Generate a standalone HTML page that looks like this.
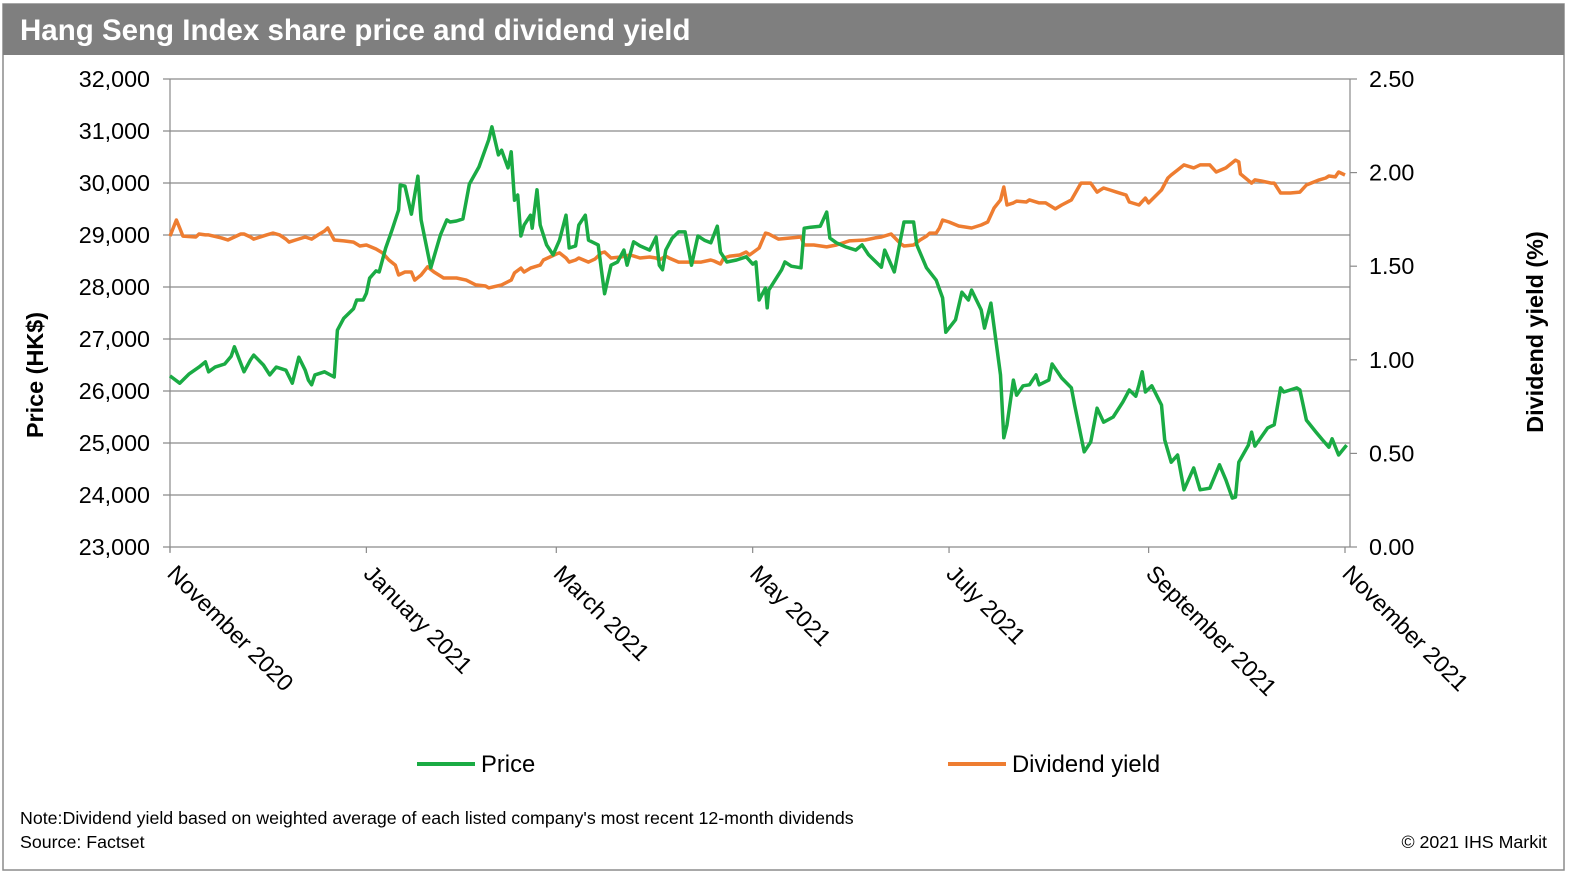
<!DOCTYPE html>
<html><head><meta charset="utf-8"><style>
body{margin:0;background:#fff;}
#wrap{position:relative;width:1586px;height:883px;overflow:hidden;font-family:"Liberation Sans",Arial,sans-serif;}
</style></head><body>
<div id="wrap">
<svg id="svg" width="1586" height="883" xmlns="http://www.w3.org/2000/svg" style="position:absolute;left:0;top:0">
<rect x="3" y="4" width="1561" height="866" fill="#fff" stroke="#8c8c8c" stroke-width="1.5"/>
<rect x="3" y="4" width="1561" height="51" fill="#7f7f7f"/>
<text x="20" y="40" font-size="29.5" font-weight="bold" fill="#fff">Hang Seng Index share price and dividend yield</text>
<g id="grid"></g><g id="axes"></g><g id="series"></g>
<text transform="translate(43,375) rotate(-90)" text-anchor="middle" font-size="23.4" font-weight="bold">Price (HK$)</text>
<text transform="translate(1543,332) rotate(-90)" text-anchor="middle" font-size="23.4" font-weight="bold">Dividend yield (%)</text>
<line x1="417" y1="764" x2="475" y2="764" stroke="#1aab44" stroke-width="4"/>
<text x="481" y="772" font-size="23.8">Price</text>
<line x1="948" y1="764" x2="1006" y2="764" stroke="#ee7d31" stroke-width="4"/>
<text x="1012" y="772" font-size="23.8">Dividend yield</text>
<text x="20" y="824" font-size="17.8">Note:Dividend yield based on weighted average of each listed company's most recent 12-month dividends</text>
<text x="20" y="848" font-size="17.8">Source: Factset</text>
<text x="1547" y="848" font-size="17.8" text-anchor="end">© 2021 IHS Markit</text>
</svg>
</div>
<script>
const priceTicks=[23000,24000,25000,26000,27000,28000,29000,30000,31000,32000];
const yieldTicks=[0,0.5,1.0,1.5,2.0,2.5];
const monthLabels=["November 2020","January 2021","March 2021","May 2021","July 2021","September 2021","November 2021"];
const monthDays=[0,61,120,181,242,304,365];
const priceDays=[0,3,6,9,11,12,14,17,19,20,23,25,26,29,31,33,36,38,40,42,43,44,45,48,51,52,54,57,58,60,61,62,64,65,67,69,71,71.5,73,75,77,78,81,84,86,87,89,91,93,96,99,100,102,103,105,106,107,108,109,110,112,112.5,114,115,117,119,121,123,124,126,127,129,130,133,134,135,137,139,141,142,144,146,149,151,152,153,154,156,157,158,160,162,164,166,168,170,171,173,176,179,181,182,183,185,185.5,186,190,191,193,196,197,199,202,204,205,207,210,213,215,217,221,222,225,227,228,231,232,235,238,240,241,244,246,248,249,252,253,255,258,259,260,262,263,265,267,269,270,273,274,277,280,281,284,286,288,290,293,296,298,300,301,302,303,305,308,309,311,313,315,317,318,320,323,326,328,330,331,332,335,336,337,341,343,345,346,350,351,353,356,358,360,361,363,365.5];
const priceValues=[26290,26150,26330,26460,26560,26370,26460,26520,26670,26850,26370,26600,26690,26500,26310,26460,26400,26150,26650,26400,26210,26120,26310,26370,26270,27170,27400,27580,27750,27750,27880,28170,28310,28290,28750,29100,29480,29960,29940,29400,30130,29290,28370,29000,29290,29250,29270,29310,29980,30310,30830,31080,30540,30630,30290,30600,29670,29770,28980,29190,29380,29130,29870,29190,28810,28620,28900,29380,28750,28790,29190,29380,28900,28810,28330,27870,28420,28480,28710,28420,28870,28790,28710,28960,28420,28330,28710,28940,29000,29060,29060,28420,28980,28900,28850,29170,28670,28480,28520,28580,28440,28480,27750,27980,27600,27940,28330,28480,28400,28370,29130,29150,29170,29440,28940,28850,28770,28710,28810,28620,28380,28710,28290,28940,29250,29250,28810,28370,28130,27790,27130,27370,27900,27750,27940,27560,27210,27690,26310,25100,25350,26210,25920,26100,26120,26310,26120,26210,26520,26250,26060,25730,24830,25020,25670,25400,25500,25790,26020,25900,26120,26370,25980,26100,25730,25060,24630,24770,24100,24380,24520,24100,24130,24580,24290,23940,23960,24630,24960,25210,24940,25290,25350,26060,25980,26060,26020,25440,25210,25060,24920,25080,24770,24960];
const yieldDays=[0,2,3,4,8,9,11,12,16,18,20,22,23,25,26,30,32,34,36,37,39,42,44,46,48,49,51,54,57,59,61,64,66,68,70,71,73,75,76,78,80,82,85,89,92,95,98,99,103,106,107,109,110,112,115,116,120,121,123,124,126,127,130,132,134,135,137,140,143,146,149,151,152,154,155,158,162,165,168,169,171,172,174,177,179,180,183,185,186,189,193,196,197,200,204,207,211,216,219,221,224,227,228,231,233,235,236,238,239,240,242,245,249,252,254,256,258,259,260,262,263,266,267,270,272,275,277,280,283,286,288,289,290,292,294,297,298,301,303,304,308,310,311,313,315,318,320,323,325,328,331,332,332.5,336,337,339,342,343,345,348,351,353,357,359,360,362,363,365];
const yieldValues=[1.661,1.747,1.704,1.661,1.656,1.672,1.667,1.667,1.651,1.640,1.656,1.672,1.672,1.656,1.645,1.667,1.677,1.667,1.645,1.629,1.640,1.656,1.645,1.667,1.688,1.704,1.640,1.635,1.629,1.608,1.613,1.592,1.571,1.533,1.506,1.453,1.469,1.469,1.426,1.453,1.496,1.469,1.437,1.437,1.426,1.400,1.394,1.384,1.400,1.426,1.464,1.490,1.469,1.490,1.506,1.533,1.565,1.571,1.544,1.522,1.533,1.544,1.522,1.538,1.571,1.576,1.544,1.549,1.560,1.544,1.549,1.544,1.533,1.554,1.544,1.522,1.522,1.522,1.533,1.528,1.512,1.544,1.554,1.560,1.576,1.560,1.597,1.677,1.672,1.645,1.651,1.656,1.613,1.613,1.603,1.613,1.635,1.640,1.651,1.656,1.672,1.619,1.608,1.613,1.640,1.661,1.677,1.677,1.704,1.747,1.736,1.715,1.704,1.720,1.736,1.811,1.854,1.923,1.827,1.838,1.848,1.843,1.854,1.838,1.838,1.806,1.827,1.854,1.944,1.944,1.896,1.907,1.918,1.907,1.896,1.880,1.843,1.827,1.864,1.838,1.907,1.971,1.987,2.014,2.041,2.025,2.041,2.041,2.003,2.025,2.067,2.057,1.993,1.944,1.961,1.955,1.944,1.944,1.891,1.891,1.896,1.934,1.961,1.971,1.982,1.977,2.003,1.987];

const NS='http://www.w3.org/2000/svg';
const L=170,R=1350,T=79,B=547;
const xDay=d=>L+d*(1345-L)/365;
const yP=v=>B-(v-23000)*(B-T)/9000;
const yY=v=>B-v*(B-T)/2.5;
function mk(tag,attrs,parent,txt){const e=document.createElementNS(NS,tag);for(const k in attrs)e.setAttribute(k,attrs[k]);if(txt!==undefined)e.textContent=txt;parent.appendChild(e);return e;}
const grid=document.getElementById('grid'),axes=document.getElementById('axes'),series=document.getElementById('series');
priceTicks.forEach(v=>{
  const y=yP(v);
  const g=mk('line',{x1:L-7,x2:R,y1:y,y2:y,stroke:'#8a8a8a','stroke-width':1.2},grid);
  
  
  const t=mk('text',{x:150,y:y+8,'text-anchor':'end','font-size':23.3},axes,v.toLocaleString('en-US'));
  
  
});
yieldTicks.forEach(v=>{
  const y=yY(v);
  const k=mk('line',{x1:R,x2:R+7,y1:y,y2:y,stroke:'#8a8a8a','stroke-width':1.2},axes);
  
  
  const t=mk('text',{x:1369,y:y+8,'font-size':23.3},axes,v.toFixed(2));
  
  
});
const la=mk('line',{x1:L,x2:L,y1:T,y2:B+5,stroke:'#8a8a8a','stroke-width':1.2},axes);


const ra=mk('line',{x1:R,x2:R,y1:T,y2:B,stroke:'#8a8a8a','stroke-width':1.2},axes);


monthDays.forEach((d,i)=>{
  const x=xDay(d);
  const k=mk('line',{x1:x,x2:x,y1:B,y2:B+6,stroke:'#8a8a8a','stroke-width':1.2},axes);
  
  
  const t=mk('text',{transform:`translate(${x-4},${B+28}) rotate(45)`,'font-size':23.4},axes,monthLabels[i]);
  
  
});
function line(days,vals,yf,color,name){
  const pts=days.map((d,i)=>xDay(d).toFixed(1)+','+yf(vals[i]).toFixed(1)).join(' ');
  const p=mk('polyline',{points:pts,fill:'none',stroke:color,'stroke-width':3.5,'stroke-linejoin':'round'},series);
  
  
}
line(yieldDays,yieldValues,yY,'#ee7d31','dividend-yield-line');
line(priceDays,priceValues,yP,'#1aab44','price-line');
</script>
</body></html>
